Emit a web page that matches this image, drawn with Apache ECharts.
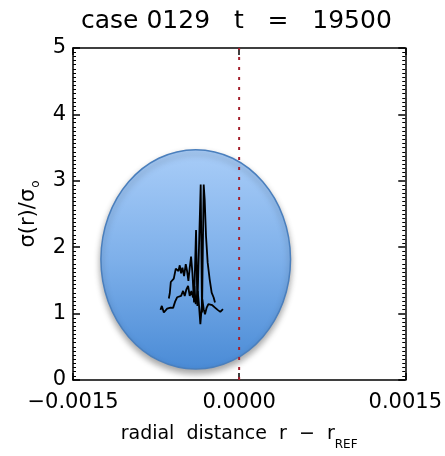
<!DOCTYPE html>
<html>
<head>
<meta charset="utf-8">
<script src="https://cdn.jsdelivr.net/npm/echarts@6/dist/echarts.min.js"></script>
<style>
  html, body { margin: 0; padding: 0; background: #fff; }
  #chart { width: 445px; height: 456px; }
</style>
</head>
<body>
<div id="chart"></div>
<script>
// Surface-density profile sigma(r)/sigma_o against radial offset r - r_REF
const titleText = 'case 0129   t   =   19500';
const xTicks = [-0.0015, 0.0, 0.0015];
const yTicks = [0, 1, 2, 3, 4, 5];

// upper profile
const upperX = [-0.000635, -0.000626, -0.000617, -0.000602, -0.000590, -0.000572, -0.000560, -0.000548,
  -0.000536, -0.000524, -0.000512, -0.000497, -0.000482, -0.000470, -0.000458, -0.000446, -0.000434,
  -0.000422, -0.000407, -0.000389, -0.000377, -0.000347, -0.000335, -0.000320, -0.000311, -0.000299,
  -0.000284, -0.000266, -0.000248, -0.000230, -0.000218];
const upperY = [1.227, 1.306, 1.476, 1.476, 1.527, 1.677, 1.707, 1.641,
  1.727, 1.607, 1.692, 1.566, 1.746, 1.641, 1.491, 1.692, 1.857,
  1.617, 1.167, 2.257, 1.116, 2.943, 1.016, 2.943, 2.718, 2.167,
  1.767, 1.517, 1.317, 1.242, 1.167];

// lower profile
const lowerX = [-0.000710, -0.000698, -0.000680, -0.000650, -0.000620, -0.000596, -0.000578, -0.000560,
  -0.000542, -0.000524, -0.000506, -0.000491, -0.000476, -0.000461, -0.000446, -0.000431, -0.000416,
  -0.000404, -0.000392, -0.000374, -0.000362, -0.000350, -0.000332, -0.000320, -0.000308, -0.000293,
  -0.000278, -0.000260, -0.000242, -0.000218, -0.000194, -0.000170, -0.000146];
const lowerY = [1.056, 1.116, 1.016, 1.076, 1.090, 1.086, 1.180, 1.246,
  1.216, 1.266, 1.341, 1.266, 1.366, 1.416, 1.266, 1.341, 1.241,
  1.416, 1.141, 1.341, 1.116, 0.841, 1.216, 1.066, 0.991, 1.091,
  1.141, 1.167, 1.126, 1.091, 1.056, 1.026, 1.066];

// reference radius marker
const refLineX = [0, 0];
const refLineY = [0, 5];

// highlighted region: centre (x, y) and semi-axes (x, y) in data units
const ellipseCenter = [-0.000392, 1.817];
const ellipseRadii = [0.000856, 1.652];

const zip = (xs, ys) => xs.map((x, i) => [x, ys[i]]);

const FONT = 'DejaVu Sans';
const fmtX = v => {
  if (Math.abs(v) < 1e-9) return '0.0000';
  return (v < 0 ? '\u2212' : '') + Math.abs(v).toFixed(4);
};

const chart = echarts.init(document.getElementById('chart'), null, { renderer: 'canvas' });

const axisLine = { show: true, onZero: false, lineStyle: { color: '#000', width: 1.5 } };
const majorTick = { show: true, inside: true, length: 7, lineStyle: { color: '#000', width: 1.5 } };
const minorTick = { show: true, splitNumber: 16, length: 3, lineStyle: { color: '#000', width: 1 } };

chart.setOption({
  animation: false,
  backgroundColor: '#fff',
  title: {
    text: titleText,
    left: 76,
    top: 4,
    textStyle: { fontFamily: FONT, fontSize: 25, fontWeight: 'normal', color: '#000' }
  },
  grid: { left: 73, right: 39, top: 48, bottom: 75, containLabel: false },
  xAxis: [{
    type: 'value',
    min: xTicks[0], max: xTicks[xTicks.length - 1], interval: 0.0015,
    position: 'bottom',
    axisLine,
    axisTick: majorTick,
    axisLabel: { formatter: fmtX, fontFamily: FONT, fontSize: 21, color: '#000', margin: 12 },
    splitLine: { show: false },
    name: '{a|radial  distance  r  \u2212  r}{s|REF}',
    nameLocation: 'middle',
    nameGap: 38,
    nameTextStyle: {
      fontFamily: FONT, color: '#000',
      rich: {
        a: { fontFamily: FONT, fontSize: 19, color: '#000' },
        s: { fontFamily: FONT, fontSize: 12, color: '#000', padding: [21, 0, 0, 0] }
      }
    }
  }, {
    type: 'value',
    min: xTicks[0], max: xTicks[xTicks.length - 1], interval: 0.0015,
    position: 'top',
    axisLine,
    axisTick: majorTick,
    axisLabel: { show: false },
    splitLine: { show: false }
  }],
  yAxis: [{
    type: 'value',
    min: yTicks[0], max: yTicks[yTicks.length - 1], interval: 1,
    position: 'left',
    axisLine,
    axisTick: majorTick,
    minorTick,
    axisLabel: { fontFamily: FONT, fontSize: 21, color: '#000', margin: 7 },
    splitLine: { show: false },
    name: '{a|\u03c3(r)/\u03c3}{s|o}',
    nameLocation: 'middle',
    nameGap: 20,
    nameTextStyle: {
      fontFamily: FONT, color: '#000',
      rich: {
        a: { fontFamily: FONT, fontSize: 21, color: '#000' },
        s: { fontFamily: FONT, fontSize: 12, color: '#000', padding: [14, 0, 0, 1] }
      }
    }
  }, {
    type: 'value',
    min: yTicks[0], max: yTicks[yTicks.length - 1], interval: 1,
    position: 'right',
    axisLine,
    axisTick: majorTick,
    minorTick,
    axisLabel: { show: false },
    splitLine: { show: false }
  }],
  series: [{
    type: 'custom',
    coordinateSystem: 'cartesian2d',
    xAxisIndex: 0, yAxisIndex: 0,
    z: 1,
    data: [[ellipseCenter[0], ellipseCenter[1], ellipseRadii[0], ellipseRadii[1]]],
    renderItem: (params, api) => {
      const c = api.coord([api.value(0), api.value(1)]);
      const s = api.size([api.value(2), api.value(3)]);
      return {
        type: 'ellipse',
        shape: { cx: c[0], cy: c[1], rx: s[0], ry: s[1] },
        style: {
          fill: {
            type: 'linear', x: 0, y: 0, x2: 0, y2: 1,
            colorStops: [
              { offset: 0, color: '#a9cdf8' },
              { offset: 0.5, color: '#7eb0ea' },
              { offset: 1, color: '#4a8bd6' }
            ]
          },
          stroke: '#4a7fbd',
          lineWidth: 1.5,
          shadowBlur: 6,
          shadowOffsetX: 0,
          shadowOffsetY: 4,
          shadowColor: 'rgba(0,0,0,0.35)'
        }
      };
    }
  }, {
    type: 'line',
    xAxisIndex: 0, yAxisIndex: 0,
    z: 3,
    data: zip(upperX, upperY),
    showSymbol: false, symbol: 'none',
    lineStyle: { color: '#000', width: 1.8 }
  }, {
    type: 'line',
    xAxisIndex: 0, yAxisIndex: 0,
    z: 3,
    data: zip(lowerX, lowerY),
    showSymbol: false, symbol: 'none',
    lineStyle: { color: '#000', width: 1.8 }
  }, {
    type: 'line',
    xAxisIndex: 0, yAxisIndex: 0,
    z: 4,
    data: zip(refLineX, refLineY),
    showSymbol: false, symbol: 'none',
    lineStyle: { color: '#a3202e', width: 2, type: [3, 7] }
  }]
});
</script>
</body>
</html>
